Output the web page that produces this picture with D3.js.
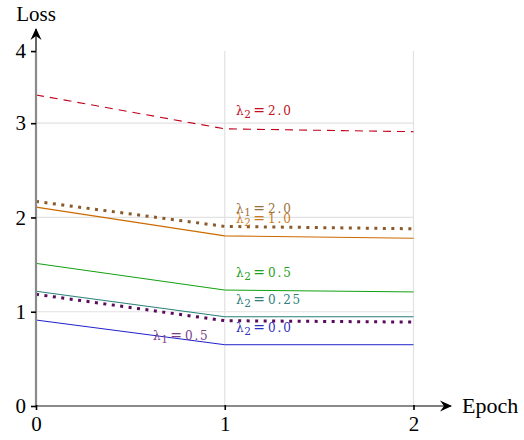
<!DOCTYPE html>
<html>
<head>
<meta charset="utf-8">
<script src="https://cdn.jsdelivr.net/npm/d3@7"></script>
<style>
  html, body { margin: 0; padding: 0; background: #fff; }
  svg { display: block; }
</style>
</head>
<body>
<svg id="chart" width="524" height="440"></svg>
<script>
// ---- data ----
const epochs = [0, 1, 2];
const xTickLabels = ["0", "1", "2"];
const yTickValues = [0, 1, 2, 3, 3.765];
const yTickLabels = ["0", "1", "2", "3", "4"];

const lam2_2_0  = [3.30, 2.94, 2.91];
const lam1_2_0  = [2.17, 1.905, 1.88];
const lam2_1_0  = [2.11, 1.805, 1.78];
const lam2_0_5  = [1.513, 1.23, 1.21];
const lam2_0_25 = [1.217, 0.947, 0.947];
const lam1_0_5  = [1.185, 0.905, 0.89];
const lam2_0_0  = [0.912, 0.65, 0.65];

const seriesNames = ["λ2=2.0", "λ1=2.0", "λ2=1.0", "λ2=0.5", "λ2=0.25", "λ1=0.5", "λ2=0.0"];

// label text pieces
const labelSub = ["2", "1", "2", "2", "2", "1", "2"];
const labelVal = ["2.0", "2.0", "1.0", "0.5", "0.25", "0.5", "0.0"];
// label anchor positions in data units
const labelX = [1.06, 1.06, 1.06, 1.06, 1.06, 0.62, 1.06];
const labelY = [3.09, 2.05, 1.94, 1.37, 1.08, 0.70, 0.79];

// ---- style ----
const styles = [
  { color: "#c0001a", width: 1.1, dash: "8,6", text: "#c01020" },
  { color: "#8b5a2b", width: 3,   dash: "3,5.5", text: "#9a7040" },
  { color: "#cc6a00", width: 1.1, dash: null, text: "#cc7a20" },
  { color: "#10a010", width: 1,   dash: null, text: "#20a020" },
  { color: "#2a7f7a", width: 1.1, dash: null, text: "#2f7f7a" },
  { color: "#5a0a5a", width: 3,   dash: "3,5.5", text: "#7a3d8a" },
  { color: "#2020cc", width: 1,   dash: null, text: "#3030c0" }
];
const series = [lam2_2_0, lam1_2_0, lam2_1_0, lam2_0_5, lam2_0_25, lam1_0_5, lam2_0_0];

const svg = d3.select("#chart");
const x = d3.scaleLinear().domain([0, 2]).range([36, 413.5]);
const y = d3.scaleLinear().domain([0, 3]).range([406, 123.2]);
const yTop = 3.765;

// grid
const grid = svg.append("g");
grid.selectAll("line.h").data([1, 2, 3]).enter().append("line")
  .attr("x1", x(0)).attr("x2", x(2))
  .attr("y1", d => y(d)).attr("y2", d => y(d))
  .attr("stroke", "#e2e2e2").attr("stroke-width", 1.2);
grid.selectAll("line.v").data([1, 2]).enter().append("line")
  .attr("x1", d => x(d)).attr("x2", d => x(d))
  .attr("y1", y(0)).attr("y2", y(yTop))
  .attr("stroke", "#e2e2e2").attr("stroke-width", 1.2);

// series lines
const line = d3.line().x((d, i) => x(epochs[i])).y(d => y(d));
series.forEach((s, k) => {
  const st = styles[k];
  const p = svg.append("path").datum(s)
    .attr("d", line)
    .attr("fill", "none")
    .attr("stroke", st.color)
    .attr("stroke-width", st.width);
  if (st.dash) p.attr("stroke-dasharray", st.dash);
});

// labels
series.forEach((s, k) => {
  const t = svg.append("text")
    .attr("x", x(labelX[k])).attr("y", y(labelY[k]))
    .attr("font-family", "DejaVu Serif")
    .attr("font-size", 12)
    .attr("fill", styles[k].text);
  t.append("tspan").text("λ");
  t.append("tspan").attr("dy", 3).attr("dx", 0.5).attr("font-size", 10.5).text(labelSub[k]);
  t.append("tspan").attr("dy", -3).attr("dx", 2.5).attr("font-size", 14).text("=");
  t.append("tspan").attr("dx", 3).attr("letter-spacing", 1.8).text(labelVal[k]);
});

// axes
const defs = svg.append("defs");
defs.append("marker").attr("id", "arrow")
  .attr("viewBox", "0 0 12 12").attr("refX", 11).attr("refY", 6)
  .attr("markerWidth", 12).attr("markerHeight", 12)
  .attr("markerUnits", "userSpaceOnUse")
  .attr("orient", "auto")
  .append("path").attr("d", "M0,0.5 L12,6 L0,11.5 L4,6 Z").attr("fill", "#000");

// black axis lines with arrows
svg.append("line").attr("x1", x(0)).attr("y1", y(0)).attr("x2", 451).attr("y2", y(0))
  .attr("stroke", "#000").attr("stroke-width", 1.2).attr("marker-end", "url(#arrow)");
svg.append("line").attr("x1", x(0)).attr("y1", y(0)).attr("x2", x(0)).attr("y2", 29)
  .attr("stroke", "#000").attr("stroke-width", 1.2).attr("marker-end", "url(#arrow)");
// grey segments over the data range
svg.append("line").attr("x1", x(0)).attr("y1", y(0)).attr("x2", x(2)).attr("y2", y(0))
  .attr("stroke", "#8a8a8a").attr("stroke-width", 2.2);
svg.append("line").attr("x1", x(0)).attr("y1", y(0)).attr("x2", x(0)).attr("y2", y(yTop))
  .attr("stroke", "#8a8a8a").attr("stroke-width", 2.2);

// ticks
const xAxis = d3.axisBottom(x).tickValues(epochs).tickFormat((d, i) => xTickLabels[i])
  .tickSize(4).tickPadding(6);
const gx = svg.append("g").attr("transform", `translate(0,${y(0)})`).call(xAxis);
gx.select(".domain").remove();
gx.selectAll(".tick line").attr("stroke", "#000").attr("stroke-width", 1.6).attr("y1", -1);
gx.selectAll(".tick text").attr("font-family", "Liberation Serif").attr("font-size", 21).attr("fill", "#000");

const yAxis = d3.axisLeft(y).tickValues(yTickValues).tickFormat((d, i) => yTickLabels[i])
  .tickSize(5).tickPadding(5);
const gy = svg.append("g").attr("transform", `translate(${x(0)},0)`).call(yAxis);
gy.select(".domain").remove();
gy.selectAll(".tick line").attr("stroke", "#000").attr("stroke-width", 1.6);
gy.selectAll(".tick text").attr("font-family", "Liberation Serif").attr("font-size", 21).attr("fill", "#000");

// axis titles
svg.append("text").attr("x", 36).attr("y", 21).attr("text-anchor", "middle")
  .attr("font-family", "Liberation Serif").attr("font-size", 21).text("Loss");
svg.append("text").attr("x", 462).attr("y", 413).attr("text-anchor", "start")
  .attr("font-family", "Liberation Serif").attr("font-size", 22).text("Epoch");
</script>
</body>
</html>
